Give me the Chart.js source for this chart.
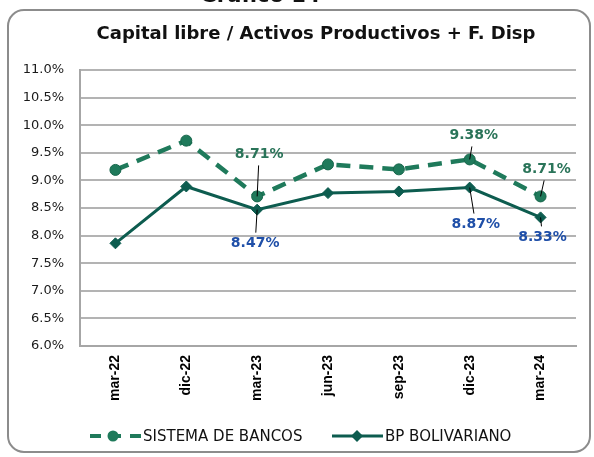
<!DOCTYPE html>
<html>
<head>
<meta charset="utf-8">
<script src="https://cdn.jsdelivr.net/npm/chart.js@4.4.0/dist/chart.umd.min.js"></script>
<style>
  html, body { margin: 0; padding: 0; background: #fff; }
</style>
</head>
<body>
<canvas id="grafico" width="594" height="457"></canvas>
<script>
var periodos = ["mar-22", "dic-22", "mar-23", "jun-23", "sep-23", "dic-23", "mar-24"];
var sistemaBancos = [9.19, 9.72, 8.71, 9.29, 9.20, 9.38, 8.71];
var bpBolivariano = [7.86, 8.89, 8.47, 8.77, 8.80, 8.87, 8.33];
var ticksEje = [6.0, 6.5, 7.0, 7.5, 8.0, 8.5, 9.0, 9.5, 10.0, 10.5, 11.0];
var etiquetasSistema = [2, 5, 6];
var etiquetasBP = [2, 5, 6];

var verde = "#1f7a5b";
var verdeOscuro = "#0d5c4f";

// etiquetas de datos con linea guia (offset del texto respecto al punto)
var pluginEtiquetas = {
  id: "etiquetas",
  afterDatasetsDraw: function (chart) {
    var ctx = chart.ctx;
    var conf = [
      { ds: 0, idx: etiquetasSistema, color: "#2a7459", off: [[2, -42], [4, -24], [6, -27]] },
      { ds: 1, idx: etiquetasBP, color: "#1f4fa8", off: [[-2, 34], [6, 37], [2, 20]] }
    ];
    ctx.save();
    ctx.font = "bold 14px 'DejaVu Sans'";
    ctx.textAlign = "center";
    ctx.textBaseline = "middle";
    conf.forEach(function (c) {
      var meta = chart.getDatasetMeta(c.ds);
      var datos = chart.data.datasets[c.ds].data;
      c.idx.forEach(function (i, k) {
        var p = meta.data[i];
        var tx = p.x + c.off[k][0];
        var ty = p.y + c.off[k][1];
        var sgn = c.off[k][1] < 0 ? -1 : 1;
        var ey = ty - sgn * 11;
        if (Math.abs(ey - p.y) > 4) {
          ctx.beginPath();
          ctx.strokeStyle = "#000";
          ctx.lineWidth = 1;
          ctx.moveTo(p.x, p.y);
          ctx.lineTo(p.x + (tx - p.x) * (ey - p.y) / (ty - p.y), ey);
          ctx.stroke();
        }
        ctx.fillStyle = c.color;
        ctx.fillText(datos[i].toFixed(2) + "%", tx, ty);
      });
    });
    ctx.restore();
  }
};

var pluginMarco = {
  id: "marco",
  beforeDraw: function (chart) {
    var ctx = chart.ctx;
    ctx.save();
    ctx.fillStyle = "#fff";
    ctx.fillRect(0, 0, chart.width, chart.height);
    ctx.strokeStyle = "#8c8c8c";
    ctx.lineWidth = 2;
    ctx.beginPath();
    ctx.roundRect(8, 10, 582, 442, 16);
    ctx.stroke();
    ctx.restore();
  },
  afterDraw: function (chart) {
    var ctx = chart.ctx;
    ctx.save();
    ctx.fillStyle = "#111";
    ctx.textAlign = "center";
    ctx.textBaseline = "alphabetic";
    ctx.font = "bold 21px 'DejaVu Sans'";
    ctx.fillText("Gráfico 14", 260, 2);
    ctx.textBaseline = "middle";
    ctx.font = "bold 18px 'DejaVu Sans'";
    ctx.fillText("Capital libre / Activos Productivos + F. Disp", 316, 34);

    // leyenda
    var y = 436;
    ctx.lineCap = "butt";
    ctx.strokeStyle = verde;
    ctx.lineWidth = 4;
    ctx.setLineDash([11, 9]);
    ctx.beginPath();
    ctx.moveTo(90, y);
    ctx.lineTo(141, y);
    ctx.stroke();
    ctx.setLineDash([]);
    ctx.fillStyle = verde;
    ctx.beginPath();
    ctx.arc(113, y, 5.5, 0, Math.PI * 2);
    ctx.fill();

    ctx.strokeStyle = verdeOscuro;
    ctx.lineWidth = 3;
    ctx.beginPath();
    ctx.moveTo(332, y);
    ctx.lineTo(383, y);
    ctx.stroke();
    ctx.fillStyle = verdeOscuro;
    ctx.beginPath();
    ctx.moveTo(357, y - 6);
    ctx.lineTo(363, y);
    ctx.lineTo(357, y + 6);
    ctx.lineTo(351, y);
    ctx.closePath();
    ctx.fill();

    ctx.fillStyle = "#111";
    ctx.textAlign = "left";
    ctx.font = "15px 'DejaVu Sans'";
    ctx.fillText("SISTEMA DE BANCOS", 143, y + 1);
    ctx.fillText("BP BOLIVARIANO", 385, y + 1);
    ctx.restore();
  }
};

new Chart(document.getElementById("grafico"), {
  type: "line",
  data: {
    labels: periodos,
    datasets: [
      {
        label: "SISTEMA DE BANCOS",
        data: sistemaBancos,
        borderColor: verde,
        backgroundColor: verde,
        borderWidth: 4.5,
        borderDash: [14, 9],
        pointStyle: "circle",
        pointRadius: 5.5,
        pointBorderWidth: 1,
        pointBorderColor: "#17664b",
        tension: 0
      },
      {
        label: "BP BOLIVARIANO",
        data: bpBolivariano,
        borderColor: verdeOscuro,
        backgroundColor: verdeOscuro,
        borderWidth: 3,
        pointStyle: "rectRot",
        pointRadius: 5.5,
        pointBorderWidth: 1,
        tension: 0
      }
    ]
  },
  options: {
    responsive: false,
    animation: false,
    layout: { padding: { top: 70, left: 0, right: 18, bottom: 0 } },
    plugins: {
      legend: { display: false },
      title: { display: false },
      tooltip: { enabled: false }
    },
    scales: {
      x: {
        offset: true,
        grid: { display: false, drawTicks: false },
        border: { display: true, color: "#a6a6a6", width: 2 },
        ticks: {
          color: "#000",
          font: { family: "'Liberation Sans'", size: 14, weight: "bold" },
          minRotation: 90,
          maxRotation: 90,
          padding: 9
        },
        afterFit: function (s) { s.height = 111; }
      },
      y: {
        min: 6,
        max: 11,
        afterBuildTicks: function (ax) {
          ax.ticks = ticksEje.map(function (v) { return { value: v }; });
        },
        grid: { color: "#b3b3b3", lineWidth: 2, drawTicks: false },
        border: { display: true, color: "#a6a6a6", width: 2 },
        ticks: {
          color: "#1a1a1a",
          font: { family: "'DejaVu Sans'", size: 13 },
          padding: 16,
          callback: function (v) { return Number(v).toFixed(1) + "%"; }
        },
        afterFit: function (s) { s.width = 80; }
      }
    }
  },
  plugins: [pluginMarco, pluginEtiquetas]
});
</script>
</body>
</html>
